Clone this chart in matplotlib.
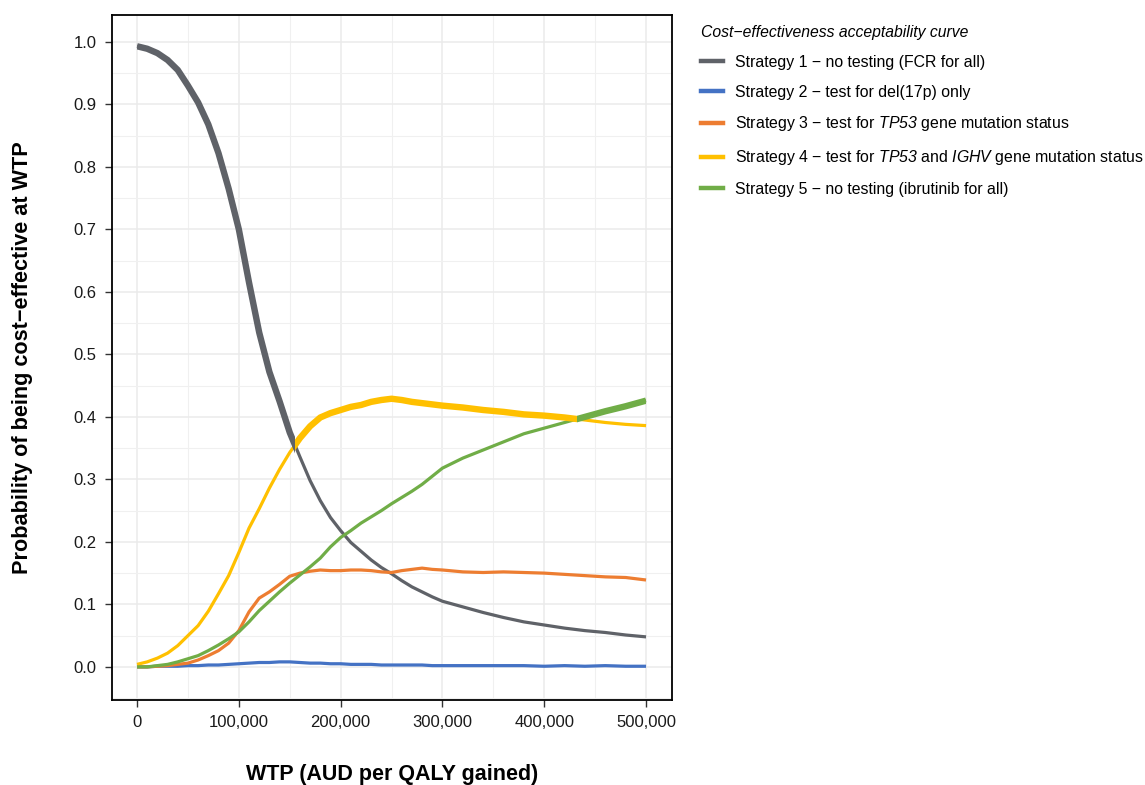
import matplotlib
matplotlib.use("Agg")
import matplotlib.pyplot as plt
from matplotlib.lines import Line2D
from matplotlib.patches import Rectangle
from matplotlib.ticker import MultipleLocator, FuncFormatter

plt.rcParams['font.family'] = ['Liberation Sans', 'DejaVu Sans']
plt.rcParams['mathtext.fontset'] = 'custom'
# mathtext only used for the italic gene names
plt.rcParams['mathtext.rm'] = 'Liberation Sans:italic'
plt.rcParams['mathtext.it'] = 'Liberation Sans:italic'

# WTP grid (AUD per QALY gained)
wtp = list(range(0, 300000, 10000)) + list(range(300000, 500001, 20000))

# probability of being cost-effective
s1 = [0.993, 0.989, 0.982, 0.971, 0.955, 0.930, 0.903, 0.868, 0.822, 0.765,
      0.700, 0.615, 0.535, 0.472, 0.425, 0.375, 0.336, 0.298, 0.266, 0.239,
      0.218, 0.199, 0.185, 0.171, 0.159, 0.149, 0.138, 0.128, 0.120, 0.112,
      0.105, 0.096, 0.087, 0.079, 0.072, 0.067, 0.062, 0.058, 0.055, 0.051, 0.048]
s2 = [0.000, 0.000, 0.001, 0.001, 0.001, 0.002, 0.002, 0.003, 0.003, 0.004,
      0.005, 0.006, 0.007, 0.007, 0.008, 0.008, 0.007, 0.006, 0.006, 0.005,
      0.005, 0.004, 0.004, 0.004, 0.003, 0.003, 0.003, 0.003, 0.003, 0.002,
      0.002, 0.002, 0.002, 0.002, 0.002, 0.001, 0.002, 0.001, 0.002, 0.001, 0.001]
s3 = [0.000, 0.000, 0.001, 0.002, 0.004, 0.006, 0.011, 0.018, 0.026, 0.038,
      0.058, 0.088, 0.110, 0.120, 0.132, 0.145, 0.150, 0.153, 0.155, 0.154,
      0.154, 0.155, 0.155, 0.154, 0.152, 0.151, 0.154, 0.156, 0.158, 0.156,
      0.155, 0.152, 0.151, 0.152, 0.151, 0.150, 0.148, 0.146, 0.144, 0.143, 0.139]
s4 = [0.004, 0.008, 0.014, 0.022, 0.034, 0.050, 0.066, 0.089, 0.117, 0.146,
      0.183, 0.222, 0.253, 0.286, 0.316, 0.343, 0.366, 0.385, 0.399, 0.406,
      0.411, 0.416, 0.419, 0.424, 0.427, 0.429, 0.427, 0.424, 0.422, 0.420,
      0.418, 0.415, 0.411, 0.408, 0.404, 0.402, 0.399, 0.395, 0.391, 0.388, 0.386]
s5 = [0.000, 0.000, 0.002, 0.004, 0.008, 0.013, 0.018, 0.026, 0.035, 0.045,
      0.056, 0.072, 0.090, 0.105, 0.120, 0.134, 0.147, 0.160, 0.174, 0.192,
      0.207, 0.218, 0.230, 0.240, 0.250, 0.261, 0.271, 0.281, 0.292, 0.305,
      0.318, 0.334, 0.347, 0.360, 0.373, 0.382, 0.391, 0.400, 0.409, 0.417, 0.426]

labels = ["Strategy 1 \u2212 no testing (FCR for all)",
          "Strategy 2 \u2212 test for del(17p) only",
          "Strategy 3 \u2212 test for $TP53$ gene mutation status",
          "Strategy 4 \u2212 test for $TP53$ and $IGHV$ gene mutation status",
          "Strategy 5 \u2212 no testing (ibrutinib for all)"]
colors = ["#5f6268", "#4472c4", "#ed7d31", "#ffc000", "#70ad47"]

# WTP ranges where each strategy sits on the cost-effectiveness frontier
frontier = {0: (0, 155000), 3: (155000, 432000), 4: (432000, 500000)}

series = [s1, s2, s3, s4, s5]

fig = plt.figure(figsize=(11.45, 7.85), dpi=100)
ax = fig.add_axes([112/1145, 1 - 700/785, 560/1145, 685/785])

for i, ys in enumerate(series):
    ax.plot(wtp, ys, color=colors[i], lw=2.3, zorder=3, solid_capstyle='butt')

for i, (lo, hi) in frontier.items():
    ln, = ax.plot(wtp, series[i], color=colors[i], lw=4.6, zorder=4,
                  solid_capstyle='butt')
    ln.set_clip_path(Rectangle((lo, -1), hi - lo, 3, transform=ax.transData))

ax.set_xlim(-24600, 525500)
ax.set_ylim(-0.053, 1.043)
ax.xaxis.set_major_locator(MultipleLocator(100000))
ax.xaxis.set_minor_locator(MultipleLocator(50000))
ax.yaxis.set_major_locator(MultipleLocator(0.1))
ax.yaxis.set_minor_locator(MultipleLocator(0.05))
ax.xaxis.set_major_formatter(FuncFormatter(lambda v, p: f"{v:,.0f}"))
ax.yaxis.set_major_formatter(FuncFormatter(lambda v, p: f"{v:.1f}"))

ax.grid(which='major', color='#ebebeb', lw=1.1, zorder=0)
ax.grid(which='minor', color='#f0f0f0', lw=0.8, zorder=0)
ax.set_axisbelow(True)
ax.tick_params(which='major', direction='out', length=5, width=1, color='#333333',
               labelsize=12, labelcolor='#1a1a1a', pad=6)
ax.tick_params(which='minor', length=0)
for sp in ax.spines.values():
    sp.set_color('black')
    sp.set_linewidth(1.3)

ax.set_xlabel("WTP (AUD per QALY gained)", fontsize=15.5, fontweight='bold', labelpad=24)
ax.set_ylabel("Probability of being cost\u2212effective at WTP", fontsize=15.6,
              fontweight='bold', labelpad=29)

handles = [Line2D([], [], color=c, lw=3.2) for c in colors]
leg = fig.legend(handles, labels, loc='upper left', bbox_to_anchor=(687/1145, 1 - 11/785),
                 frameon=False, fontsize=11.4, handlelength=1.4, handletextpad=0.75,
                 labelspacing=0.93, title="Cost\u2212effectiveness acceptability curve",
                 title_fontproperties={'style': 'italic', 'size': 11.3},
                 alignment='left')

fig.savefig("out.png", dpi=100)
